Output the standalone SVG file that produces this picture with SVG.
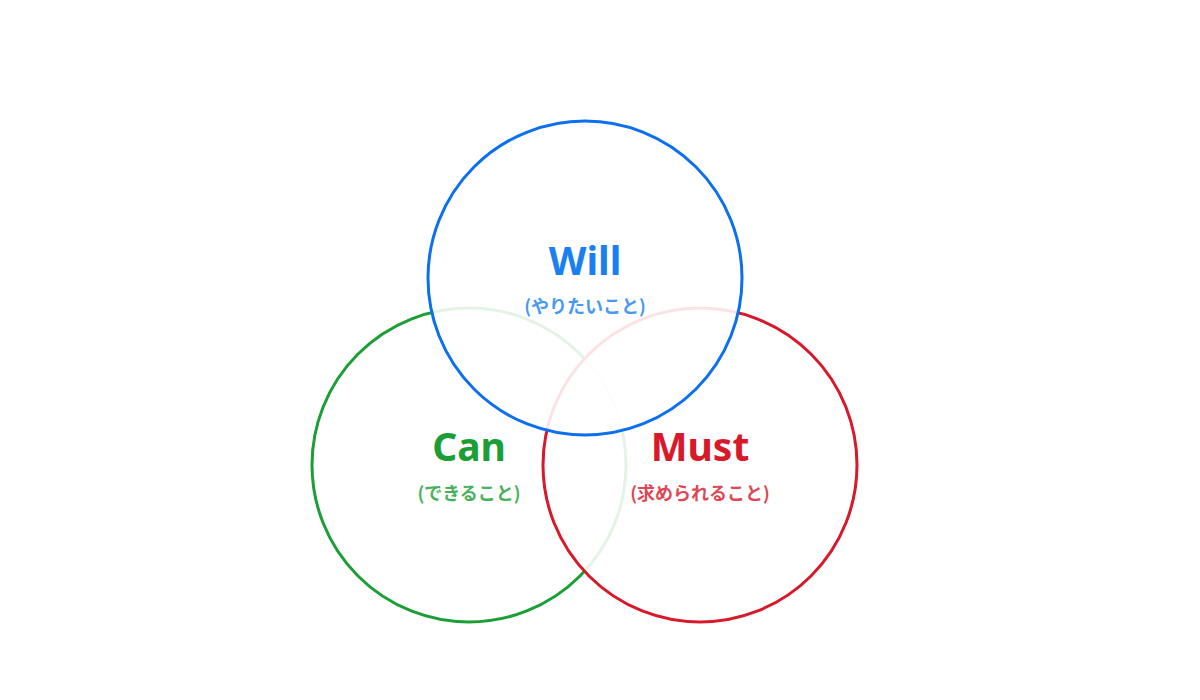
<svg xmlns="http://www.w3.org/2000/svg" width="1200" height="700" viewBox="0 0 1200 700">
<style>
.c{fill:#fff;fill-opacity:0.88;stroke-width:3}
.t{font-family:"Noto Sans","Noto Sans CJK JP",sans-serif;font-weight:700;font-size:39px;text-anchor:middle}
.s{font-family:"Noto Sans CJK JP","Noto Sans",sans-serif;font-weight:700;font-size:18px;text-anchor:middle;opacity:0.8}
</style>
<rect width="1200" height="700" fill="#fff"/>
<g id="can">
<circle class="c" cx="469" cy="465" r="157" stroke="#1a9e35"/>
</g>
<g id="must">
<circle class="c" cx="700" cy="465" r="157" stroke="#d8182b"/>
</g>
<g id="will">
<circle class="c" cx="585" cy="278" r="157" stroke="#0c6ff0"/>
</g>
<g id="labels">
<text class="t" x="585" y="275" fill="#1a7ff0">Will</text>
<text class="s" x="585" y="313" fill="#1a7ff0">(やりたいこと)</text>
<text class="t" x="469" y="461" fill="#1a9e35">Can</text>
<text class="s" x="469" y="500" fill="#1a9e35">(できること)</text>
<text class="t" x="700" y="461" fill="#d8182b">Must</text>
<text class="s" x="700" y="500" fill="#d8182b">(求められること)</text>
</g>
</svg>
